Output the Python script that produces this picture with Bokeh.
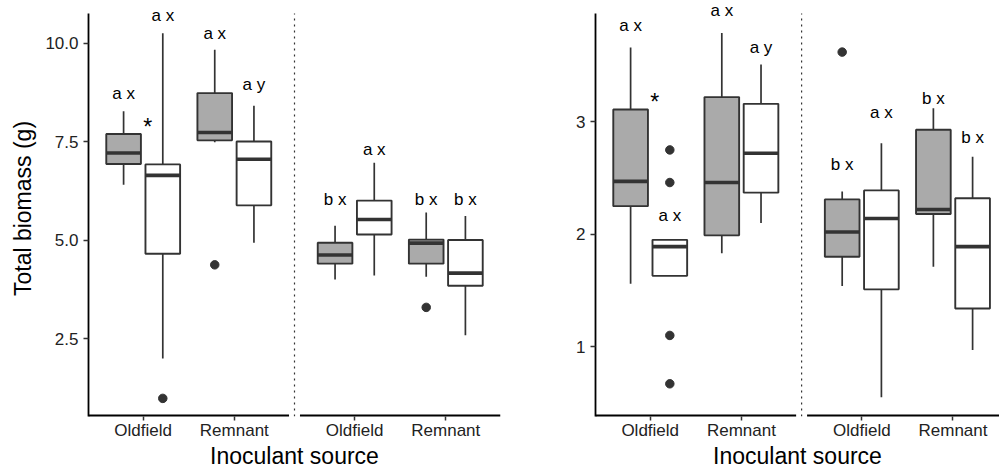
from bokeh.plotting import figure
from bokeh.models import Range1d, FixedTicker, NumeralTickFormatter, ColumnDataSource
from bokeh.layouts import row
from bokeh.embed import file_html
from bokeh.resources import INLINE
from bokeh.core.properties import value

FONT = "Liberation Sans"

# Two inoculant sources, shown twice (two facets) in each panel.
sources = ["Oldfield", "Remnant"]
fills = ["#AAAAAA", "#FFFFFF"]          # filled box, open box
facet_shift = [0.0, 2.32]               # x offset of the second facet
dodge = 0.215
box_w = 0.38

# Box order in every list: facet 1 (Oldfield filled, Oldfield open, Remnant filled,
# Remnant open), then facet 2 in the same order.
biomass_lo  = [6.40, 1.99, 7.48, 4.93, 4.00, 4.10, 4.07, 2.58]
biomass_q1  = [6.93, 4.65, 7.53, 5.88, 4.40, 5.14, 4.40, 3.84]
biomass_med = [7.21, 6.64, 7.73, 7.05, 4.62, 5.52, 4.92, 4.16]
biomass_q3  = [7.69, 6.92, 8.73, 7.50, 4.93, 6.00, 5.01, 5.00]
biomass_hi  = [8.27, 10.25, 9.83, 8.41, 5.36, 6.96, 5.70, 5.61]
biomass_out_box = [1, 2, 6]
biomass_out_val = [0.98, 4.37, 3.29]
biomass_letters = ["a x", "a x", "a x", "a y", "b x", "a x", "b x", "b x"]
biomass_letter_y = [8.73, 10.70, 10.24, 8.95, 6.04, 7.31, 6.04, 6.02]
biomass_star = (1.05, 7.88)

right_lo  = [1.56, 1.63, 1.83, 2.10, 1.54, 0.55, 1.71, 0.97]
right_q1  = [2.25, 1.63, 1.99, 2.37, 1.80, 1.51, 2.18, 1.34]
right_med = [2.47, 1.89, 2.46, 2.72, 2.02, 2.14, 2.22, 1.89]
right_q3  = [3.11, 1.95, 3.22, 3.16, 2.31, 2.39, 2.93, 2.32]
right_hi  = [3.66, 1.95, 3.79, 3.51, 2.38, 2.81, 3.12, 2.69]
right_out_box = [1, 1, 1, 1, 4]
right_out_val = [2.75, 2.46, 1.10, 0.67, 3.62]
right_letters = ["a x", "a x", "a x", "a y", "b x", "a x", "b x", "b x"]
right_letter_y = [3.86, 2.17, 3.99, 3.66, 2.62, 3.08, 3.21, 2.86]
right_star = (1.05, 3.18)


def box_positions():
    xs, cols = [], []
    for shift in facet_shift:
        for i, _ in enumerate(sources):
            for k, col in enumerate(fills):
                xs.append(i + 1 + shift + (-dodge if k == 0 else dodge))
                cols.append(col)
    return xs, cols


def panel(lo, q1, med, q3, hi, out_box, out_val, letters, letter_y, star,
          y_range, y_top, yticks, yfmt, x_end, width, b_left, b_right, ylabel=None):
    p = figure(width=width, height=471, output_backend="svg", toolbar_location=None,
               x_range=Range1d(0.4, x_end), y_range=Range1d(*y_range),
               min_border_left=b_left, min_border_right=b_right,
               min_border_top=0, min_border_bottom=54)
    p.background_fill_color = "white"
    p.border_fill_color = "white"
    p.outline_line_color = None
    p.grid.visible = False

    xs, cols = box_positions()
    src = ColumnDataSource(dict(x=xs, lo=lo, q1=q1, med=med, q3=q3, hi=hi, fill=cols,
                                left=[x - box_w / 2 for x in xs],
                                right=[x + box_w / 2 for x in xs]))
    dark = "#333333"
    p.segment("x", "q3", "x", "hi", source=src, line_color=dark, line_width=1.7)
    p.segment("x", "lo", "x", "q1", source=src, line_color=dark, line_width=1.7)
    p.vbar(x="x", width=box_w, bottom="q1", top="q3", source=src,
           fill_color="fill", line_color=dark, line_width=1.9)
    p.segment("left", "med", "right", "med", source=src, line_color=dark, line_width=3.6)

    p.scatter([xs[i] for i in out_box], out_val, size=8.5, color=dark)

    p.text(xs, letter_y, text=letters, text_align="center", text_baseline="middle",
           text_font=value(FONT), text_font_size="17px", text_color="black")
    p.text([star[0]], [star[1]], text=["*"], text_align="center", text_baseline="middle",
           text_font=value(FONT), text_font_size="23px", text_color="black")

    # axis line pieces for each facet, and the dotted divider between them
    y0 = y_range[0]
    p.segment([0.4 + s for s in facet_shift], [y0, y0], [2.6 + s for s in facet_shift], [y0, y0],
              line_color="black", line_width=4)
    xd = 2.6 + (facet_shift[1] - 2.2) / 2
    p.segment([xd], [y0], [xd], [y_top], line_color="#333333", line_width=1.2, line_dash="dotted")

    cats = [i + 1 + s for s in facet_shift for i in range(len(sources))]
    xa = p.xaxis[0]
    xa.ticker = FixedTicker(ticks=cats)
    xa.major_label_overrides = {c: sources[j % 2] for j, c in enumerate(cats)}
    xa.axis_line_color = None
    xa.major_tick_out = 4
    xa.major_tick_in = 0
    xa.major_tick_line_color = "#333333"
    xa.major_tick_line_width = 1.5
    xa.major_label_text_font = FONT
    xa.major_label_text_font_size = "17px"
    xa.major_label_text_color = "#222222"
    xa.major_label_standoff = 0
    xa.axis_label = "Inoculant source"
    xa.axis_label_text_font = FONT
    xa.axis_label_text_font_size = "23px"
    xa.axis_label_text_font_style = "normal"
    xa.axis_label_text_color = "black"
    xa.axis_label_standoff = 0

    ya = p.yaxis[0]
    ya.ticker = FixedTicker(ticks=yticks)
    ya.formatter = NumeralTickFormatter(format=yfmt)
    ya.bounds = (y0, y_top)
    ya.axis_line_color = "black"
    ya.axis_line_width = 1.8
    ya.major_tick_out = 5
    ya.major_tick_in = 0
    ya.major_tick_line_color = "#333333"
    ya.major_tick_line_width = 1.5
    ya.major_label_text_font = FONT
    ya.major_label_text_font_size = "17px"
    ya.major_label_text_color = "#222222"
    ya.major_label_standoff = 5
    if ylabel:
        ya.axis_label = ylabel
        ya.axis_label_text_font = FONT
        ya.axis_label_text_font_size = "23px"
        ya.axis_label_text_font_style = "normal"
        ya.axis_label_text_color = "black"
        ya.axis_label_standoff = 6
    return p


p1 = panel(biomass_lo, biomass_q1, biomass_med, biomass_q3, biomass_hi,
           biomass_out_box, biomass_out_val, biomass_letters, biomass_letter_y, biomass_star,
           (0.52, 11.08), 10.75, [2.5, 5.0, 7.5, 10.0], "0.0", 2.6 + facet_shift[1],
           545, 88, 45, ylabel="Total biomass (g)")
p2 = panel(right_lo, right_q1, right_med, right_q3, right_hi,
           right_out_box, right_out_val, right_letters, right_letter_y, right_star,
           (0.379, 4.079), 3.964, [1, 2, 3], "0", 4.83,
           454, 50, 0)

layout = row(p1, p2)
open("out.html", "w").write(file_html(layout, INLINE))
